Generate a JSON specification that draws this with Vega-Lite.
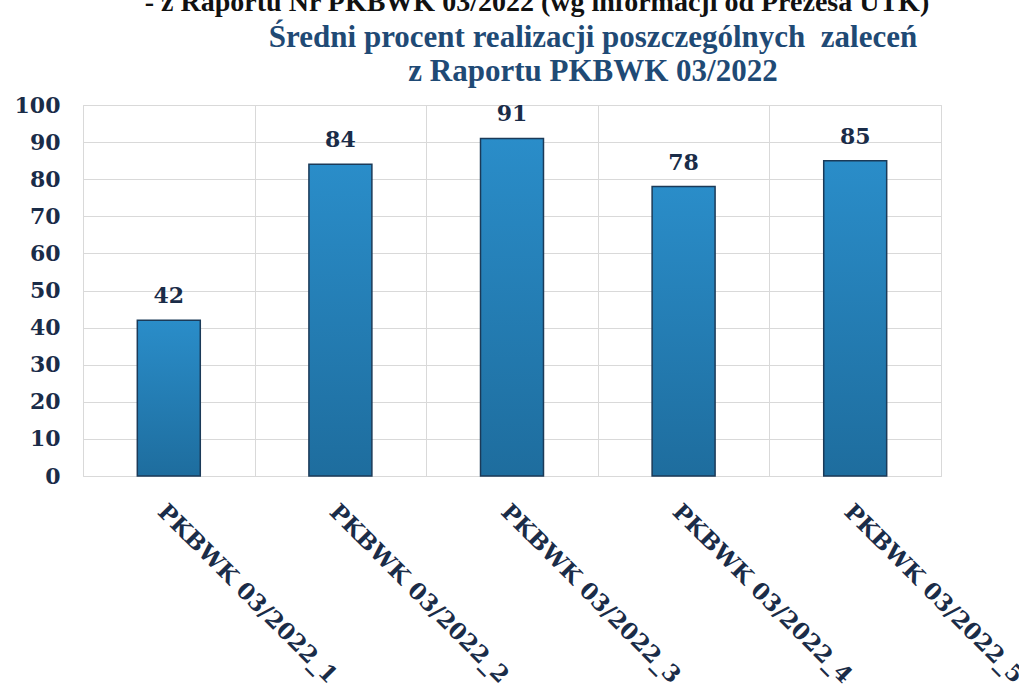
{
  "$schema": "https://vega.github.io/schema/vega-lite/v6.json",
  "autosize": {"type": "none"},
  "width": 858,
  "height": 371,
  "padding": {"left": 83, "top": 105, "right": 78, "bottom": 213},
  "background": "white",
  "title": {
    "text": "- z Raportu Nr PKBWK 03/2022 (wg informacji od Prezesa UTK)\u00a0\u00a0\u00a0\u00a0\u00a0\u00a0\u00a0\u00a0\u00a0\u00a0\u00a0\u00a0\u00a0\u00a0\u00a0\u00a0\u200b",
    "subtitle": ["Średni procent realizacji poszczególnych\u00a0 zaleceń", "z Raportu PKBWK 03/2022"],
    "anchor": "middle",
    "frame": "group",
    "dx": 81,
    "font": "Liberation Serif",
    "fontSize": 28,
    "fontWeight": "bold",
    "color": "#111111",
    "subtitleFont": "Liberation Serif",
    "subtitleFontSize": 31,
    "subtitleFontWeight": "bold",
    "subtitleColor": "#1f4a75",
    "subtitleLineHeight": 34,
    "subtitlePadding": 6,
    "offset": 7
  },
  "data": {
    "values": [
      {"kod": "PKBWK 03/2022_1", "procent": 42},
      {"kod": "PKBWK 03/2022_2", "procent": 84},
      {"kod": "PKBWK 03/2022_3", "procent": 91},
      {"kod": "PKBWK 03/2022_4", "procent": 78},
      {"kod": "PKBWK 03/2022_5", "procent": 85}
    ]
  },
  "encoding": {
    "x": {
      "field": "kod",
      "type": "nominal",
      "sort": null,
      "scale": {"paddingInner": 0, "paddingOuter": 0},
      "axis": {
        "title": null,
        "labelAngle": 45,
        "labelAlign": "left",
        "labelBaseline": "top",
        "labelFont": "DejaVu Serif",
        "labelFontWeight": "bold",
        "labelFontSize": 23,
        "labelColor": "#1a2c48",
        "labelPadding": 24,
        "labelLimit": 400,
        "ticks": false,
        "domain": false,
        "grid": true,
        "tickBand": "extent",
        "gridColor": "#d9d9d9",
        "gridWidth": 1
      }
    },
    "y": {
      "field": "procent",
      "type": "quantitative",
      "scale": {"domain": [0, 100], "nice": false},
      "axis": {
        "title": null,
        "values": [0, 10, 20, 30, 40, 50, 60, 70, 80, 90, 100],
        "labelFont": "DejaVu Serif",
        "labelFontWeight": "bold",
        "labelFontSize": 22,
        "labelColor": "#1a2c48",
        "labelPadding": 23,
        "ticks": false,
        "domain": false,
        "gridColor": "#d9d9d9",
        "gridWidth": 1
      }
    }
  },
  "layer": [
    {
      "mark": {
        "type": "bar",
        "width": {"band": 0.367},
        "stroke": "#1b3a58",
        "strokeWidth": 1.5,
        "color": {
          "gradient": "linear",
          "x1": 0, "y1": 0, "x2": 0, "y2": 1,
          "stops": [
            {"offset": 0, "color": "#2a8dc9"},
            {"offset": 1, "color": "#1e6d9e"}
          ]
        }
      }
    },
    {
      "mark": {
        "type": "text",
        "baseline": "alphabetic",
        "dy": -17,
        "font": "DejaVu Serif",
        "fontWeight": "bold",
        "fontSize": 22,
        "color": "#1a2c48"
      },
      "encoding": {"text": {"field": "procent", "type": "quantitative"}}
    }
  ],
  "config": {
    "view": {"stroke": "#d9d9d9", "strokeWidth": 1}
  }
}
